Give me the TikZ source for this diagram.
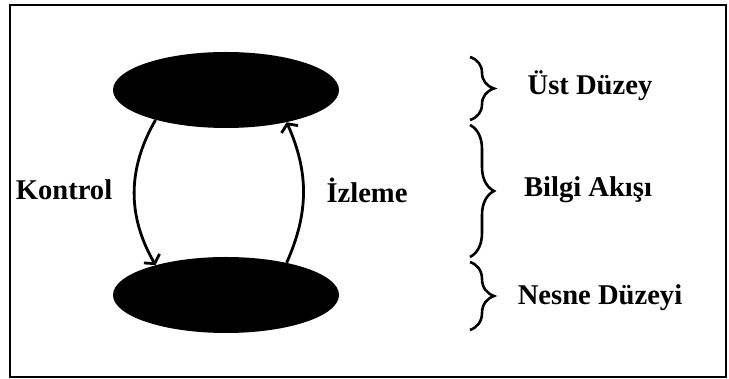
\documentclass[tikz,border=0pt]{standalone}
\usepackage{fontspec}
\setmainfont{Liberation Serif}
\usetikzlibrary{shapes.geometric,positioning,arrows.meta,decorations.pathreplacing}
\tikzset{x=1pt,y=1pt,
  node distance=205pt, % gap between the two levels
  level/.style={ % the filled ellipses
    ellipse,
    fill=black,
    minimum width=226pt,
    minimum height=76pt},
  lbl/.style={
    font=\fontsize{28.6}{32}\selectfont\bfseries,
    inner sep=0pt},
  flow/.style={
    draw,
    -{Straight Barb[length=6pt,width=18pt]},
    line width=2.8pt},
  grp/.style={ % the curly braces
    decorate,
    decoration={brace,amplitude=24pt},
    line width=2.6pt}}

\begin{document}
\begin{tikzpicture}
    \useasboundingbox (0,0) rectangle (729,379);
    \draw[line width=2pt] (10,2) rectangle (726,374);
    \node[level] (ust) at (226,289) {};
    \node[level, below of=ust] (nesne) {};
    \draw[flow] (ust.203) to[bend right=30] (nesne.157);
    \draw[flow] (nesne.28) to[bend right=24] (ust.332);
    \node[lbl] (kontrol) at (64,189) {Kontrol};
    \node[lbl] (izleme) at (367,189) {İzleme};
    % braces on the right
    \draw[grp] (470,322) -- (470,259);
    \draw[grp] (470,254) -- (470,122);
    \draw[grp] (470,117) -- (470,49);
    \node[lbl] (ustd) at (590,293) {Üst Düzey};
    \node[lbl] (bilgi) at (588,189) {Bilgi Akışı};
    \node[lbl] (nesned) at (600,81) {Nesne Düzeyi};
  \end{tikzpicture}
\end{document}
